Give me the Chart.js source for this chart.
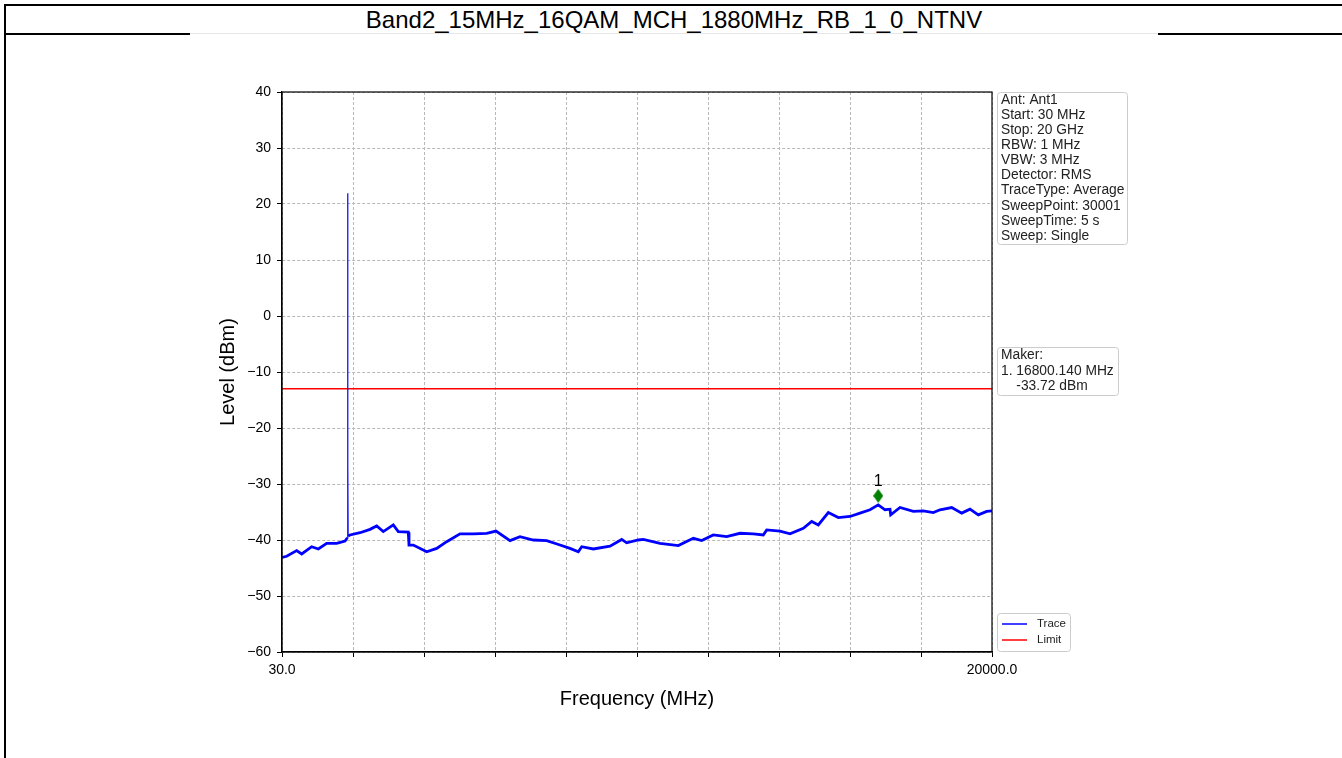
<!DOCTYPE html>
<html>
<head>
<meta charset="utf-8">
<title>Band2_15MHz_16QAM_MCH_1880MHz_RB_1_0_NTNV</title>
<script src="https://cdn.jsdelivr.net/npm/chart.js@4.4.0/dist/chart.umd.min.js"></script>
<style>
  body { margin: 0; background: #fff; width: 1342px; height: 758px; overflow: hidden; position: relative; font-family: 'Liberation Sans', Arial, sans-serif; }
  .bar { position: absolute; background: #000; }
  #title { position: absolute; left: 6px; right: 0; top: 6px; height: 27px; line-height: 27px; text-align: center; font-size: 24px; color: #000; }
  #chart { position: absolute; left: 0; top: 0; }
</style>
</head>
<body>
<div class="bar" style="left:4px;top:4px;width:1338px;height:2px"></div>
<div class="bar" style="left:4px;top:4px;width:2px;height:754px"></div>
<div class="bar" style="left:4px;top:33px;width:186px;height:2px"></div>
<div class="bar" style="left:190px;top:33px;width:968px;height:1px;background:#e6e6e6"></div>
<div class="bar" style="left:1158px;top:33px;width:184px;height:2px"></div>
<div id="title">Band2_15MHz_16QAM_MCH_1880MHz_RB_1_0_NTNV</div>
<canvas id="chart" width="1342" height="758"></canvas>
<script>
// trace (MHz / dBm)
const freqs = [30, 162, 443, 584, 865, 1051, 1287, 1569, 1802,
  1870, 1878, 1882, 1890,
  1943, 2224, 2505, 2694, 2879, 3161, 3301, 3582, 3602, 3723,
  4100, 4381, 4662, 5037, 5411, 5788, 6049, 6443, 6724, 7098,
  7475, 7849, 8131, 8364, 8460, 8786, 9256, 9585, 9725, 10052,
  10192, 10662, 11177, 11599, 11835, 12161, 12538, 12912, 13286, 13568,
  13663, 14037, 14319, 14693, 14929, 15115, 15396, 15677, 16006, 16287,
  16569, 16800.14, 16991, 17131, 17151, 17412, 17787, 18068, 18349, 18538,
  18867, 19148, 19381, 19615, 19851, 20000];
const levels = [-43.1, -42.9, -41.9, -42.5, -41.2, -41.6, -40.6, -40.6, -40.2,
  -39.6, 21.9, -26.5, -39.3,
  -39.1, -38.7, -38.1, -37.5, -38.5, -37.3, -38.5, -38.6, -40.9, -40.9,
  -42.1, -41.5, -40.3, -38.9, -38.9, -38.8, -38.4, -40.1, -39.4, -40.0,
  -40.1, -40.9, -41.5, -42.1, -41.2, -41.6, -41.1, -39.9, -40.5, -40.0,
  -39.9, -40.6, -41.0, -39.7, -40.1, -39.1, -39.4, -38.8, -38.9, -39.1,
  -38.2, -38.4, -38.9, -37.9, -36.7, -37.3, -35.1, -36.0, -35.8, -35.2,
  -34.6, -33.72, -34.6, -34.5, -35.5, -34.2, -34.9, -34.8, -35.1, -34.6,
  -34.2, -35.2, -34.5, -35.5, -34.9, -34.8];

const limitFreqs = [30, 20000];
const limitLevels = [-13, -13];

const markerFreq = 16800.14;
const markerLevel = -33.72;
const markerLift = 1.6;   // diamond sits a little above the trace

const xTickLabels = ['30.0', '', '', '', '', '', '', '', '', '', '20000.0'];
const yTickValues = [-60, -50, -40, -30, -20, -10, 0, 10, 20, 30, 40];

const infoLines = ['Ant: Ant1', 'Start: 30 MHz', 'Stop: 20 GHz', 'RBW: 1 MHz', 'VBW: 3 MHz',
  'Detector: RMS', 'TraceType: Average', 'SweepPoint: 30001', 'SweepTime: 5 s', 'Sweep: Single'];
const makerLines = ['Maker:', '1. 16800.140 MHz', '    -33.72 dBm'];

const FONT = "'Liberation Sans', Arial, sans-serif";
Chart.defaults.font.family = FONT;
Chart.defaults.color = '#000';

// thin diamond like matplotlib 'd'
var diamond = document.createElement('canvas');
diamond.width = 10; diamond.height = 14;
var dctx = diamond.getContext('2d');
dctx.fillStyle = '#008000';
dctx.beginPath();
dctx.moveTo(5, 0); dctx.lineTo(10, 7); dctx.lineTo(5, 14); dctx.lineTo(0, 7);
dctx.closePath(); dctx.fill();

function box(ctx, x, y, w, h) {
  ctx.save();
  ctx.fillStyle = '#fff';
  ctx.strokeStyle = '#cccccc';
  ctx.lineWidth = 1;
  ctx.beginPath();
  ctx.roundRect(x + 0.5, y + 0.5, w, h, 3);
  ctx.fill();
  ctx.stroke();
  ctx.restore();
}

var extras = {
  id: 'extras',
  afterDraw(chart) {
    var ctx = chart.ctx, a = chart.chartArea;
    // spines
    ctx.save();
    ctx.strokeStyle = '#000';
    ctx.lineWidth = 1.2;
    ctx.strokeRect(a.left, a.top, a.right - a.left, a.bottom - a.top);

    // marker label
    var pt = chart.getDatasetMeta(2).data[0];
    ctx.fillStyle = '#000';
    ctx.font = '16px ' + FONT;
    ctx.textAlign = 'center';
    ctx.textBaseline = 'middle';
    ctx.fillText('1', pt.x, pt.y - 14);

    // info box
    var bx = a.right + 5;
    ctx.textAlign = 'left';
    box(ctx, bx, a.top, 130, 152);
    ctx.fillStyle = '#222';
    ctx.font = '13.8px ' + FONT;
    infoLines.forEach(function (t, i) { ctx.fillText(t, bx + 4, a.top + 8 + i * 15.1); });

    // maker box
    var my = a.top + 255;
    box(ctx, bx, my, 121, 48);
    makerLines.forEach(function (t, i) { ctx.fillText(t, bx + 4, my + 8.5 + i * 15.5); });

    // legend
    var ly = a.bottom - 39;
    box(ctx, bx, ly, 73, 38);
    ctx.font = '11.5px ' + FONT;
    [chart.data.datasets[0], chart.data.datasets[1]].forEach(function (ds, i) {
      var y = ly + 11 + i * 16;
      ctx.strokeStyle = ds.borderColor;
      ctx.lineWidth = 1.5;
      ctx.beginPath(); ctx.moveTo(bx + 5, y); ctx.lineTo(bx + 30, y); ctx.stroke();
      ctx.fillText(ds.label, bx + 40, y);
    });
    ctx.restore();
  }
};

var ctx = document.getElementById('chart').getContext('2d');
var chart = new Chart(ctx, {
  type: 'line',
  data: {
    datasets: [{
      label: 'Trace',
      data: freqs.map(function (f, i) { return { x: f, y: levels[i] }; }),
      borderColor: '#0000ff',
      borderWidth: 2.8,
      pointRadius: 0,
      segment: {
        borderWidth: function (c) { return (c.p0.parsed.y > -30 || c.p1.parsed.y > -30) ? 1.2 : 2.8; }
      }
    }, {
      label: 'Limit',
      data: limitFreqs.map(function (f, i) { return { x: f, y: limitLevels[i] }; }),
      borderColor: '#ff0000',
      borderWidth: 1.5,
      pointRadius: 0
    }, {
      label: 'Marker',
      data: [{ x: markerFreq, y: markerLevel + markerLift }],
      showLine: false,
      pointStyle: diamond,
      pointRadius: 7
    }]
  },
  options: {
    responsive: false,
    animation: false,
    devicePixelRatio: 1,
    layout: { padding: { left: 190, right: 350, top: 92, bottom: 16 } },
    plugins: { legend: { display: false }, tooltip: { enabled: false } },
    scales: {
      x: {
        type: 'linear',
        min: 30,
        max: 20000,
        afterFit: function (s) { s.height = 90; },
        afterBuildTicks: function (s) {
          s.ticks = xTickLabels.map(function (_, i) {
            return { value: 30 + i * (20000 - 30) / (xTickLabels.length - 1) };
          });
        },
        ticks: {
          autoSkip: false,
          maxRotation: 0,
          padding: 5,
          font: { size: 14 },
          callback: function (v, i) { return xTickLabels[i]; }
        },
        grid: { color: '#b8b8b8', lineWidth: 1, tickLength: 5, tickColor: '#000', tickBorderDash: [] },
        border: { display: true, color: '#000', width: 1.2, dash: [3, 2] },
        title: { display: true, text: 'Frequency (MHz)', font: { size: 20 }, padding: { top: 0, bottom: 31 } }
      },
      y: {
        min: -60,
        max: 40,
        afterFit: function (s) { s.width = 92; },
        afterBuildTicks: function (s) {
          s.ticks = yTickValues.map(function (v) { return { value: v }; });
        },
        ticks: {
          padding: 6,
          font: { size: 14 },
          callback: function (v) { return v < 0 ? '\u2212' + Math.abs(v) : String(v); }
        },
        grid: { color: '#b8b8b8', lineWidth: 1, tickLength: 5, tickColor: '#000', tickBorderDash: [] },
        border: { display: true, color: '#000', width: 1.2, dash: [3, 2] },
        title: { display: true, text: 'Level (dBm)', font: { size: 20 }, padding: { top: 26, bottom: 0 } }
      }
    }
  },
  plugins: [extras]
});
</script>
</body>
</html>
